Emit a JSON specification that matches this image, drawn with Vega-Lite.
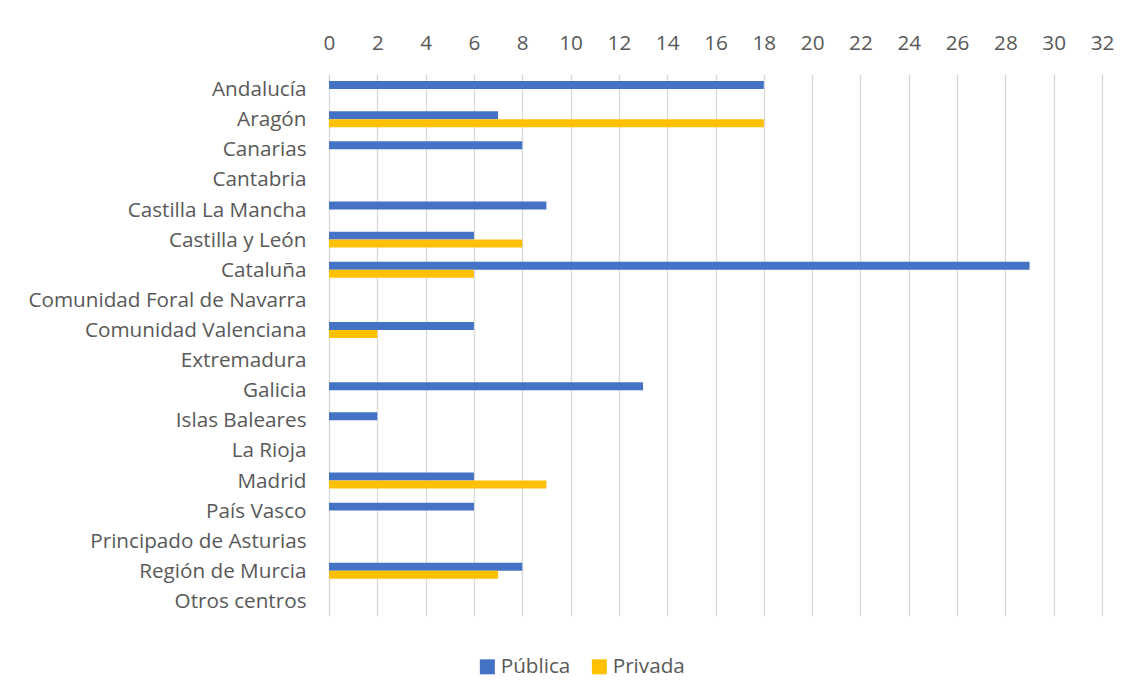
{
  "$schema": "https://vega.github.io/schema/vega-lite/v6.json",
  "autosize": {"type": "none"},
  "width": 773,
  "height": 542,
  "padding": {"left": 329, "top": 74, "right": 28, "bottom": 83},
  "background": "white",
  "config": {
    "view": {"stroke": null},
    "font": "Open Sans"
  },
  "data": {
    "values": [
      {"region": "Andalucía", "tipo": "Pública", "valor": 18},
      {"region": "Aragón", "tipo": "Pública", "valor": 7},
      {"region": "Aragón", "tipo": "Privada", "valor": 18},
      {"region": "Canarias", "tipo": "Pública", "valor": 8},
      {"region": "Castilla La Mancha", "tipo": "Pública", "valor": 9},
      {"region": "Castilla y León", "tipo": "Pública", "valor": 6},
      {"region": "Castilla y León", "tipo": "Privada", "valor": 8},
      {"region": "Cataluña", "tipo": "Pública", "valor": 29},
      {"region": "Cataluña", "tipo": "Privada", "valor": 6},
      {"region": "Comunidad Valenciana", "tipo": "Pública", "valor": 6},
      {"region": "Comunidad Valenciana", "tipo": "Privada", "valor": 2},
      {"region": "Galicia", "tipo": "Pública", "valor": 13},
      {"region": "Islas Baleares", "tipo": "Pública", "valor": 2},
      {"region": "Madrid", "tipo": "Pública", "valor": 6},
      {"region": "Madrid", "tipo": "Privada", "valor": 9},
      {"region": "País Vasco", "tipo": "Pública", "valor": 6},
      {"region": "Región de Murcia", "tipo": "Pública", "valor": 8},
      {"region": "Región de Murcia", "tipo": "Privada", "valor": 7}
    ]
  },
  "mark": {"type": "bar"},
  "encoding": {
    "y": {
      "field": "region",
      "type": "nominal",
      "scale": {
        "domain": ["Andalucía", "Aragón", "Canarias", "Cantabria", "Castilla La Mancha", "Castilla y León", "Cataluña", "Comunidad Foral de Navarra", "Comunidad Valenciana", "Extremadura", "Galicia", "Islas Baleares", "La Rioja", "Madrid", "País Vasco", "Principado de Asturias", "Región de Murcia", "Otros centros"],
        "paddingInner": 0.47,
        "paddingOuter": 0.235
      },
      "axis": {
        "title": null,
        "domain": false,
        "ticks": false,
        "labelPadding": 23,
        "labelOffset": 1,
        "labelFontSize": 20.7,
        "labelLimit": 400,
        "labelOverlap": false,
        "labelColor": "#595959",
        "labelFont": "Open Sans"
      }
    },
    "yOffset": {
      "field": "tipo",
      "type": "nominal",
      "scale": {"domain": ["Pública", "Privada"], "paddingInner": 0, "paddingOuter": 0}
    },
    "x": {
      "field": "valor",
      "type": "quantitative",
      "scale": {"domain": [0, 32], "nice": false},
      "axis": {
        "orient": "top",
        "title": null,
        "values": [0, 2, 4, 6, 8, 10, 12, 14, 16, 18, 20, 22, 24, 26, 28, 30, 32],
        "domain": false,
        "ticks": false,
        "grid": true,
        "gridColor": "#D9D9D9",
        "gridWidth": 1.3,
        "labelPadding": 21,
        "labelFontSize": 20.7,
        "labelOverlap": false,
        "labelBound": false,
        "labelFlush": false,
        "labelColor": "#595959",
        "labelFont": "Open Sans"
      }
    },
    "color": {
      "field": "tipo",
      "type": "nominal",
      "scale": {"domain": ["Pública", "Privada"], "range": ["#4472C4", "#FFC000"]},
      "legend": {
        "title": null,
        "orient": "none",
        "direction": "horizontal",
        "legendX": 148,
        "legendY": 582,
        "symbolType": "square",
        "symbolSize": 225,
        "symbolStrokeWidth": 0,
        "labelFontSize": 20.7,
        "labelColor": "#595959",
        "labelFont": "Open Sans",
        "columnPadding": 18,
        "labelOffset": 3
      }
    }
  }
}
